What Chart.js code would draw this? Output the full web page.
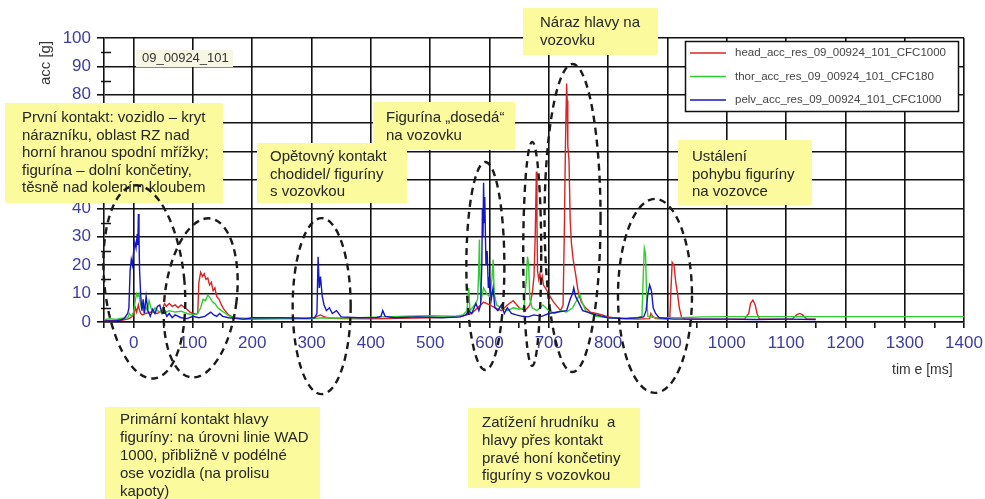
<!DOCTYPE html>
<html>
<head>
<meta charset="utf-8">
<title>acc</title>
<script src="https://cdn.jsdelivr.net/npm/chart.js@4.4.1/dist/chart.umd.min.js"></script>
<style>
  html, body { margin: 0; padding: 0; background: #fff; }
  #wrap { width: 985px; height: 499px; }
</style>
</head>
<body>
<div id="wrap"><canvas id="graf" width="985" height="499"></canvas></div>
<script>
// time [ms], acc [g]
const headTrace = [[-50,0.5],[-20,0.6],[-10,1],[-5,1.5],[0,2.5],[3,5],[5,3.5],[8,6],[10,4],[12,3],[15,2.5],[20,3],[30,3.5],[40,3],[48,4],[52,6.5],[55,5.5],[60,6.5],[65,5.5],[70,6],[75,5],[80,6],[85,5.2],[90,4.5],[95,3.5],[100,3],[105,2.8],[108,3],[110,14],[113,17.5],[116,16],[119,17],[122,15],[125,15.5],[128,13],[131,14],[134,11],[137,12],[140,9],[144,8],[148,6],[152,4.5],[156,3.5],[160,2.5],[165,2],[170,1.5],[178,1.2],[185,1],[200,1],[250,1.2],[300,1.2],[315,2.5],[320,2],[330,1.3],[350,1.2],[400,1.1],[450,1.3],[500,1.5],[550,1.8],[570,3],[580,5],[590,7],[600,6],[610,5],[620,4],[630,6],[640,7.5],[650,5],[660,4],[668,6],[672,10],[675,16],[677,30],[679,53],[680,35],[681,18],[683,15],[685,17],[687,14],[689,16],[691,13],[694,12],[697,11],[702,9],[708,7],[714,5.5],[720,4],[724,6],[726,30],[728,62],[730,84],[731,78],[732,62],[734,57],[736,36],[738,28],[741,22],[745,17],[750,10],[755,7],[762,5],[770,3.5],[780,3],[790,2.5],[800,1.8],[820,1.2],[850,1],[870,1.2],[872,3],[875,2],[880,1.2],[900,1],[904,1.5],[906,12],[908,21],[911,20],[914,14],[917,10],[920,5],[924,1.5],[930,1],[950,1],[1000,1],[1030,1],[1037,3],[1040,6.5],[1044,7.7],[1048,6],[1051,3],[1055,1],[1080,1],[1110,1],[1118,2.5],[1123,3],[1128,2.5],[1135,1],[1150,1]];

const thorTrace = [[-50,0.8],[-40,1.2],[-30,0.9],[-20,1.3],[-10,1.5],[-7,3],[-4,2],[0,3.5],[3,8],[5,10],[7,9],[9,10],[11,7],[13,5],[15,6],[18,3.5],[20,5.5],[23,4],[26,7.5],[29,5],[32,3.5],[36,5],[40,4],[45,3.5],[50,5],[55,3.5],[60,4],[70,3.5],[80,3.8],[90,3],[100,2.5],[108,3],[113,5],[117,8],[121,7.5],[125,9.5],[129,8.5],[133,7],[137,6.5],[142,5],[148,4],[155,3],[162,2],[172,1.5],[190,1.3],[220,1.2],[260,1.3],[300,1.2],[320,1.5],[340,1.4],[380,1.5],[420,1.8],[460,2],[500,2.2],[540,2],[555,2.5],[562,4],[565,12],[567,4],[575,6],[580,8],[582,20],[583,29],[584,15],[586,8],[590,12],[595,10],[600,9],[604,15],[606,22],[608,10],[612,6],[620,5],[630,4],[640,5],[650,4.5],[658,5],[662,15],[664,23],[666,20],[668,8],[672,5],[680,4],[690,6],[700,4],[710,3],[720,4],[730,3.5],[740,5],[748,8],[752,10],[756,7],[762,4],[770,3],[780,2],[800,1.5],[830,1.3],[850,1.5],[857,2],[859,15],[861,26],[863,24],[865,8],[867,2],[880,1.5],[920,1.5],[960,1.8],[1000,1.9],[1100,1.9],[1200,1.9],[1300,1.9],[1400,1.9]];

const pelvTrace = [[-50,0.3],[-30,0.5],[-20,0.8],[-15,1.5],[-10,3],[-8,5],[-6,18],[-4,22],[-2,20],[0,25],[2,28],[4,26],[6,31],[7,27],[8,38],[9,30],[10,18],[12,9],[14,4],[16,8],[18,3],[21,9],[24,4],[28,2],[32,4.5],[36,3],[40,5.5],[44,6],[48,3],[52,4],[56,2],[60,3],[65,1.5],[70,2.5],[80,1.5],[90,1.2],[100,2],[110,1.5],[120,2],[130,3.5],[135,2.5],[140,2],[145,3],[150,2],[160,1.5],[170,1.3],[185,1],[200,1.5],[250,1.5],[290,1.3],[305,1.5],[309,3],[311,23],[313,12],[315,16],[318,9],[321,6],[325,4],[330,5],[335,3],[342,4],[350,1.8],[380,1.5],[410,1.6],[417,2],[420,4],[424,2],[440,1.5],[480,1.8],[520,1.5],[550,1.8],[560,2.5],[565,4],[570,3],[577,6.5],[582,4],[585,6],[587,20],[588,40],[589,30],[590,49],[591,35],[592,44],[594,20],[596,25],[598,12],[600,16],[603,8],[606,12],[609,5],[614,4],[620,6],[625,3],[630,5],[637,3],[645,2.5],[655,2],[665,1.8],[675,2.5],[688,2],[700,3],[715,3.5],[730,4],[736,8],[740,10],[742,12],[745,9],[750,7],[757,4],[765,3.5],[780,2.5],[800,1.5],[830,1.2],[850,1.5],[860,1.8],[864,4],[867,10],[870,13],[873,11],[876,5],[880,3],[886,1.5],[910,1],[950,1],[1000,1],[1050,0.9],[1100,1],[1150,0.9]];

const seriesNames = ['head_acc_res_09_00924_101_CFC1000', 'thor_acc_res_09_00924_101_CFC180', 'pelv_acc_res_09_00924_101_CFC1000'];
const seriesColors = ['#d82424', '#2fcc2f', '#1616c4'];
const xTicks = [0, 100, 200, 300, 400, 500, 600, 700, 800, 900, 1000, 1100, 1200, 1300, 1400];
const yTicks = [0, 10, 20, 30, 40, 50, 60, 70, 80, 90, 100];

const FONT = '"Liberation Sans", Arial, sans-serif';
const TICK_BLUE = '#3d3d9e';
const YELLOW = '#fbfa9c';

// popisky (x, y, w, h, text x, prvni radek, rozestup, radky)
const notes = [
  [5, 103, 218, 100, 22, 118, 17.5, ['První kontakt: vozidlo – kryt', 'nárazníku, oblast RZ nad', 'horní hranou spodní mřížky;', 'figurína – dolní končetiny,', 'těsně nad kolením kloubem']],
  [257, 143, 150, 60, 270, 157, 17.5, ['Opětovný kontakt', 'chodidel/ figuríny', 's vozovkou']],
  [373, 102, 142, 48, 386, 118, 18, ['Figurína „dosedá“', 'na vozovku']],
  [523, 8, 135, 47, 540, 23, 18, ['Náraz hlavy na', 'vozovku']],
  [678, 140, 134, 65, 692, 157, 17.5, ['Ustálení', 'pohybu figuríny', 'na vozovce']],
  [105, 407, 215, 92, 120, 420, 18, ['Primární kontakt hlavy', 'figuríny: na úrovni linie WAD', '1000, přibližně v podélné', 'ose vozidla (na prolisu', 'kapoty)']],
  [468, 408, 172, 80, 482, 423, 17.7, ['Zatížení hrudníku  a', 'hlavy přes kontakt', 'pravé honí končetiny', 'figuríny s vozovkou']]
];

// carkovane elipsy: stred [ms], stred [g], polomery v px, natoceni
const rings = [
  [18, 14.1, 40, 97, -0.1],
  [113, 8.5, 36, 80, 0.12],
  [317, 5.6, 29, 88, 0],
  [593, 19.7, 19, 104, 0],
  [672, 24, 9, 112, 0],
  [740, 36.6, 28, 154, 0],
  [879, 9.2, 37, 97, 0]
];

function toPts(arr) { return arr.map(p => ({x: p[0], y: p[1]})); }

const decor = {
  id: 'decor',
  afterDraw(chart) {
    const c = chart.ctx, xs = chart.scales.x, ys = chart.scales.y, a = chart.chartArea;
    c.save();

    // vedlejsi znacky osy y
    c.strokeStyle = '#111'; c.lineWidth = 1.5;
    for (let v = 5; v < 100; v += 10) {
      const y = Math.round(ys.getPixelForValue(v)) + 0.5;
      c.beginPath(); c.moveTo(a.left - 3, y); c.lineTo(a.left + 7, y); c.stroke();
    }

    // nazvy os
    c.fillStyle = '#333';
    c.font = '15px ' + FONT;
    c.save();
    c.translate(46, 63); c.rotate(-Math.PI / 2);
    c.textAlign = 'center'; c.textBaseline = 'middle';
    c.fillText('acc [g]', 0, 0);
    c.restore();
    c.font = '14px ' + FONT;
    c.textAlign = 'left'; c.textBaseline = 'middle';
    c.fillText('tim e [ms]', 892, 370);

    // oznaceni mereni
    c.fillStyle = '#f7f6e4';
    c.fillRect(136, 50, 97, 17);
    c.fillStyle = '#333';
    c.font = '13px ' + FONT;
    c.fillText('09_00924_101', 142, 58);

    // legenda
    const lx = 685, ly = 41, lw = 273, lh = 70;
    c.fillStyle = '#fff'; c.fillRect(lx, ly, lw, lh);
    c.strokeStyle = '#111'; c.lineWidth = 1.5; c.strokeRect(lx + 0.5, ly + 0.5, lw, lh);
    c.font = '11.5px ' + FONT;
    chart.data.datasets.forEach((ds, i) => {
      const y = 53 + i * 23.5;
      c.strokeStyle = ds.borderColor; c.lineWidth = 1.3;
      c.beginPath(); c.moveTo(690, y); c.lineTo(726, y); c.stroke();
      c.fillStyle = '#444';
      c.fillText(ds.label, 735, y);
    });

    // zlute popisky
    notes.forEach(n => {
      c.fillStyle = YELLOW;
      c.fillRect(n[0], n[1], n[2], n[3]);
      c.fillStyle = '#262626';
      c.font = '15px ' + FONT;
      n[7].forEach((t, k) => c.fillText(t, n[4], n[5] + k * n[6]));
    });

    // elipsy
    c.strokeStyle = '#1a1a1a'; c.lineWidth = 2.4; c.setLineDash([7, 5]);
    rings.forEach(r => {
      c.beginPath();
      c.ellipse(xs.getPixelForValue(r[0]), ys.getPixelForValue(r[1]), r[2], r[3], r[4], 0, Math.PI * 2);
      c.stroke();
    });
    c.restore();
  }
};

new Chart(document.getElementById('graf'), {
  type: 'line',
  data: {
    datasets: [
      {label: seriesNames[0], data: toPts(headTrace), borderColor: seriesColors[0], order: 2},
      {label: seriesNames[1], data: toPts(thorTrace), borderColor: seriesColors[1], order: 1},
      {label: seriesNames[2], data: toPts(pelvTrace), borderColor: seriesColors[2], order: 0}
    ]
  },
  options: {
    responsive: false,
    devicePixelRatio: 1,
    animation: false,
    layout: {autoPadding: false, padding: {left: 0, top: 38, right: 21, bottom: 0}},
    elements: {
      line: {borderWidth: 1.4, tension: 0},
      point: {radius: 0}
    },
    plugins: {legend: {display: false}, tooltip: {enabled: false}},
    scales: {
      x: {
        type: 'linear', min: -50, max: 1400,
        afterBuildTicks: s => { const t = []; for (let v = -50; v <= 1400; v += 50) t.push({value: v}); s.ticks = t; },
        afterFit: s => { s.height = 177; s.paddingLeft = 0; s.paddingRight = 0; },
        ticks: {
          autoSkip: false, maxRotation: 0, padding: 5,
          color: TICK_BLUE, font: {family: FONT, size: 17},
          callback: v => xTicks.includes(v) ? String(v) : ''
        },
        grid: {
          color: ctx => (ctx.tick && xTicks.includes(ctx.tick.value)) ? '#111' : 'rgba(0,0,0,0)',
          tickColor: '#111', lineWidth: 1.6, tickLength: 6
        },
        border: {color: '#111', width: 1.6}
      },
      y: {
        min: 0, max: 100,
        afterBuildTicks: s => { s.ticks = yTicks.map(v => ({value: v})); },
        afterFit: s => { s.width = 104; s.paddingTop = 0; s.paddingBottom = 0; },
        ticks: {padding: 6, color: TICK_BLUE, font: {family: FONT, size: 17}},
        grid: {color: '#111', tickColor: '#111', lineWidth: 1.6, tickLength: 7},
        border: {color: '#111', width: 1.6}
      }
    }
  },
  plugins: [decor]
});
</script>
</body>
</html>
